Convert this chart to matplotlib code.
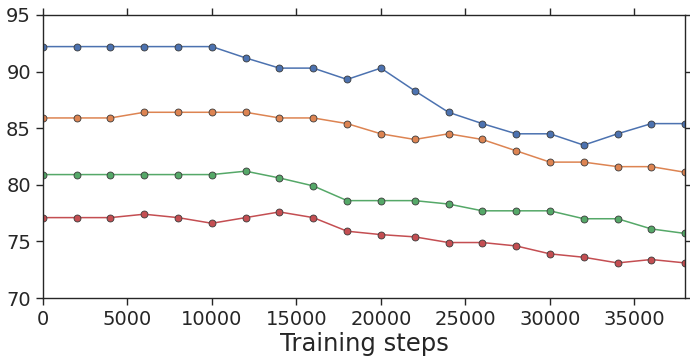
import matplotlib
matplotlib.use("Agg")
import matplotlib.pyplot as plt
import seaborn as sns

steps = list(range(0, 38001, 2000))
blue = [92.2, 92.2, 92.2, 92.2, 92.2, 92.2, 91.2, 90.3, 90.3, 89.3,
        90.3, 88.3, 86.4, 85.4, 84.5, 84.5, 83.5, 84.5, 85.4, 85.4]
orange = [85.9, 85.9, 85.9, 86.4, 86.4, 86.4, 86.4, 85.9, 85.9, 85.4,
          84.5, 84.0, 84.5, 84.0, 83.0, 82.0, 82.0, 81.6, 81.6, 81.1]
green = [80.9, 80.9, 80.9, 80.9, 80.9, 80.9, 81.2, 80.6, 79.9, 78.6,
         78.6, 78.6, 78.3, 77.7, 77.7, 77.7, 77.0, 77.0, 76.1, 75.7]
red = [77.1, 77.1, 77.1, 77.4, 77.1, 76.6, 77.1, 77.6, 77.1, 75.9,
       75.6, 75.4, 74.9, 74.9, 74.6, 73.9, 73.6, 73.1, 73.4, 73.1]

sns.set_style("ticks")
plt.rcParams['font.family'] = ['DejaVu Sans']

fig = plt.figure(figsize=(6.9, 3.63), dpi=100)
ax = fig.add_axes([0.062, 0.179, 0.931, 0.780])

colors = sns.color_palette("deep")
for ys, c in zip([blue, orange, green, red], colors[:4]):
    ax.plot(steps, ys, color=c, lw=1.1, marker="o", ms=5,
            markeredgecolor="#3a3a3a", markeredgewidth=0.6)

ax.set_xlim(0, 38000)
ax.set_ylim(70, 95)
ax.set_xticks(range(0, 38000, 5000))
ax.set_yticks(range(70, 96, 5))
ax.tick_params(labelsize=14, colors="#262626", top=True, right=True,
               direction="out", length=5, width=1)
ax.tick_params(labeltop=False, labelright=False)
ax.set_xlabel("Training steps", fontsize=17.5, color="#262626", labelpad=2)
for s in ax.spines.values():
    s.set_color("#262626")
    s.set_linewidth(1)

fig.savefig("out.png", dpi=100)
